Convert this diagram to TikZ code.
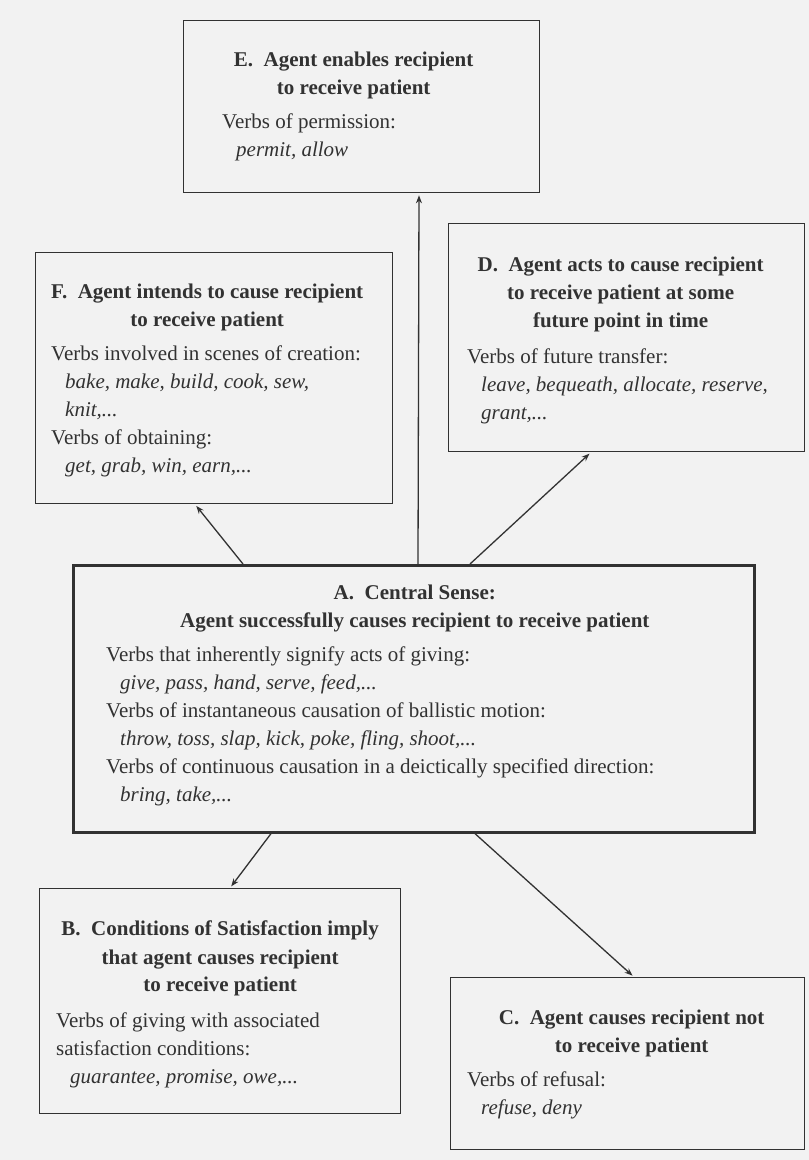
\documentclass[tikz,border=0pt]{standalone}
\usepackage{fontspec}
\setmainfont{Liberation Serif}
\usetikzlibrary{arrows.meta}
\definecolor{paper}{RGB}{242,242,242}
\definecolor{ink}{RGB}{50,50,50}
\begin{document}
\begin{tikzpicture}[x=1pt,y=-1pt,
    every node/.style={font=\fontsize{21}{28}\selectfont, text=ink},
    box/.style={draw=ink, line width=1.3pt, inner sep=0, anchor=north west},
    head/.style={font=\fontsize{21}{28}\selectfont\bfseries, align=center, anchor=north, inner sep=0},
    body/.style={align=left, anchor=north west, inner sep=0},
    arrow/.style={draw=ink, line width=1.3pt, -{Stealth[length=8pt,width=6pt]}, shorten >=2pt}]
        % Draw paper background
        \fill[paper] (0,0) rectangle (809,1160);
        % Draw E box
        \node[box, minimum width=356pt, minimum height=172pt] (E) at (183,20) {};
        \node[head] (Ehead) at ([shift={(-8,32)}]E.north) {E.\ \ Agent enables recipient\\to receive patient};
        \node[body] (Ebody) at ([shift={(39,94)}]E.north west) {Verbs of permission:\\\hspace*{14pt}\textit{permit, allow}};
        % Draw F box
        \node[box, minimum width=357pt, minimum height=251pt] (F) at (35,252) {};
        \node[head] (Fhead) at ([shift={(-7,32)}]F.north) {F.\ \ Agent intends to cause recipient\\to receive patient};
        \node[body] (Fbody) at ([shift={(16,94)}]F.north west) {Verbs involved in scenes of creation:\\\hspace*{14pt}\textit{bake, make, build, cook, sew,}\\\hspace*{14pt}\textit{knit,...}\\Verbs of obtaining:\\\hspace*{14pt}\textit{get, grab, win, earn,...}};
        % Draw D box
        \node[box, minimum width=356pt, minimum height=228pt] (D) at (448,223) {};
        \node[head] (Dhead) at ([shift={(-6,34)}]D.north) {D.\ \ Agent acts to cause recipient\\to receive patient at some\\future point in time};
        \node[body] (Dbody) at ([shift={(19,126)}]D.north west) {Verbs of future transfer:\\\hspace*{14pt}\textit{leave, bequeath, allocate, reserve,}\\\hspace*{14pt}\textit{grant,...}};
        % Draw central box A
        \node[box, line width=2.6pt, minimum width=681pt, minimum height=267pt] (A) at (72,564) {};
        \node[head] (Ahead) at ([shift={(1,21)}]A.north) {A.\ \ Central Sense:\\Agent successfully causes recipient to receive patient};
        \node[body] (Abody) at ([shift={(34,83)}]A.north west) {Verbs that inherently signify acts of giving:\\\hspace*{14pt}\textit{give, pass, hand, serve, feed,...}\\Verbs of instantaneous causation of ballistic motion:\\\hspace*{14pt}\textit{throw, toss, slap, kick, poke, fling, shoot,...}\\Verbs of continuous causation in a deictically specified direction:\\\hspace*{14pt}\textit{bring, take,...}};
        % Draw B box
        \node[box, minimum width=361pt, minimum height=225pt] (B) at (39,888) {};
        \node[head] (Bhead) at ([shift={(0,33)}]B.north) {B.\ \ Conditions of Satisfaction imply\\that agent causes recipient\\to receive patient};
        \node[body] (Bbody) at ([shift={(17,124)}]B.north west) {Verbs of giving with associated\\satisfaction conditions:\\\hspace*{14pt}\textit{guarantee, promise, owe,...}};
        % Draw C box
        \node[box, minimum width=354pt, minimum height=172pt] (C) at (450,977) {};
        \node[head] (Chead) at ([shift={(4,33)}]C.north) {C.\ \ Agent causes recipient not\\to receive patient};
        \node[body] (Cbody) at ([shift={(17,94)}]C.north west) {Verbs of refusal:\\\hspace*{14pt}\textit{refuse, deny}};
        % Draw arrows from the central sense
        \draw[arrow] ([xshift=171pt]A.north west) -- ([xshift=160pt]F.south west);
        \draw[arrow] ([xshift=346pt]A.north west) -- ([xshift=236pt]E.south west);
        \draw[arrow] ([xshift=398pt]A.north west) -- ([xshift=143pt]D.south west);
        \draw[arrow] ([xshift=199pt]A.south west) -- ([xshift=191pt]B.north west);
        \draw[arrow] ([xshift=403pt]A.south west) -- ([xshift=184pt]C.north west);
    \end{tikzpicture}
\end{document}
